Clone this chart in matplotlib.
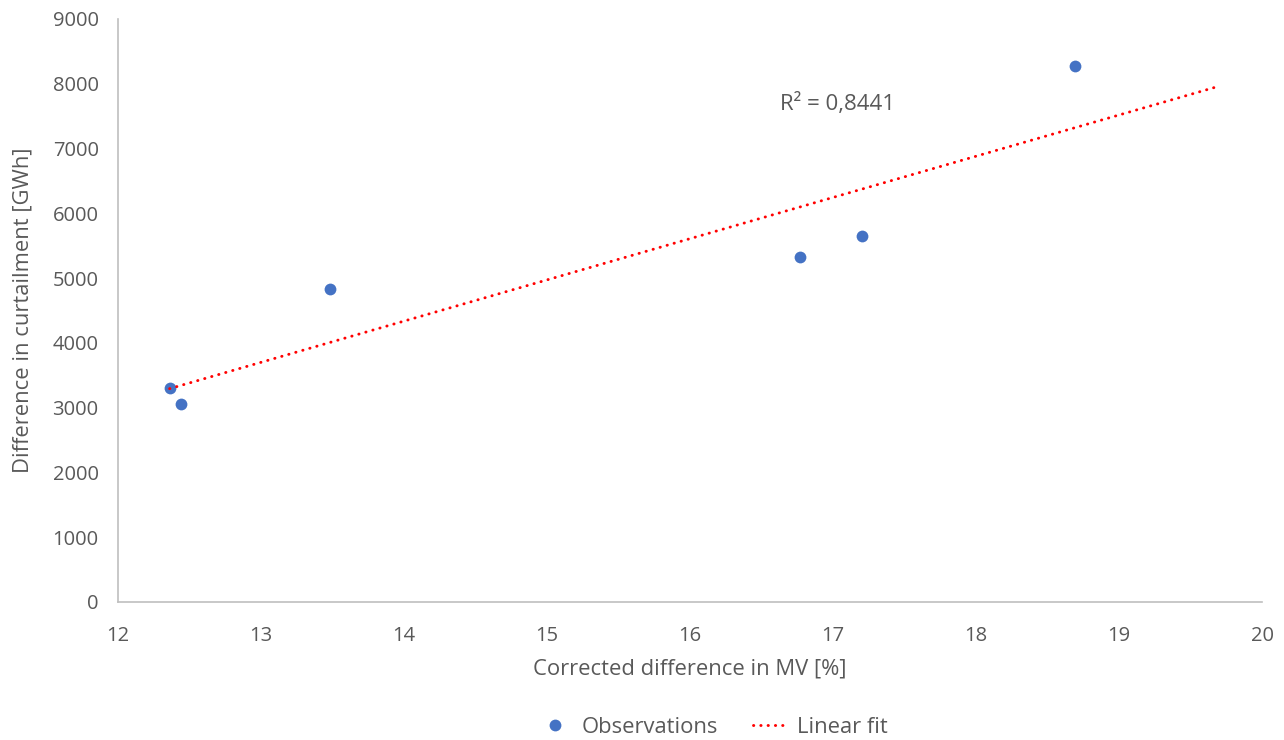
import numpy as np
import matplotlib.pyplot as plt
from matplotlib.lines import Line2D

plt.rcParams['font.family'] = ['Open Sans', 'DejaVu Sans']

# corrected MV difference [%] vs curtailment difference [GWh]
mv_diff = [12.36, 12.44, 13.48, 16.77, 17.20, 18.69]
curtail_diff = [3300, 3060, 4830, 5320, 5645, 8275]
r2_label = "R² = 0,8441"
forward = 1.0  # extend trendline past last observation

TXT = '#595959'
BLUE = '#4472C4'

x = np.array(mv_diff)
y = np.array(curtail_diff)
slope, icpt = np.polyfit(x, y, 1)
xf = np.array([x.min(), x.max() + forward])
yf = slope * xf + icpt

fig = plt.figure(figsize=(12.84, 7.40), dpi=100)
ax = fig.add_axes([0.092, 0.1865, 0.891, 0.788])

ax.scatter(x, y, s=72, color=BLUE, zorder=3, linewidths=0)
ax.plot(xf, yf, color='red', lw=2.1, linestyle=(0, (0.1, 2.4)),
        dash_capstyle='round', zorder=4)

ax.text(16.63, 7690, r2_label, fontsize=16, color=TXT, ha='left', va='center')

ax.set_xlim(12, 20)
ax.set_ylim(0, 9000)
ax.set_xticks(np.arange(12, 21, 1))
ax.set_yticks(np.arange(0, 9001, 1000))
ax.tick_params(length=0, labelsize=14.5, labelcolor=TXT)
ax.tick_params(axis='x', pad=17)
ax.tick_params(axis='y', pad=14)
for s in ['top', 'right']:
    ax.spines[s].set_visible(False)
for s in ['left', 'bottom']:
    ax.spines[s].set_color('#BFBFBF')
    ax.spines[s].set_linewidth(1.2)

ax.set_xlabel('Corrected difference in MV [%]', fontsize=15.8, color=TXT, labelpad=9)
ax.set_ylabel('Difference in curtailment [GWh]', fontsize=15.8, color=TXT, labelpad=14)

handles = [
    Line2D([], [], marker='o', ls='none', color=BLUE, markersize=8.5, markeredgewidth=0),
    Line2D([], [], color='red', lw=2.1, linestyle=(0, (0.1, 2.4)), dash_capstyle='round'),
]
fig.legend(handles, ['Observations', 'Linear fit'], loc='center', bbox_to_anchor=(0.555, 0.017),
           ncol=2, frameon=False, fontsize=15.8, labelcolor=TXT, handlelength=1.6,
           columnspacing=1.6, handletextpad=0.4)

fig.savefig('out.png', dpi=100)
